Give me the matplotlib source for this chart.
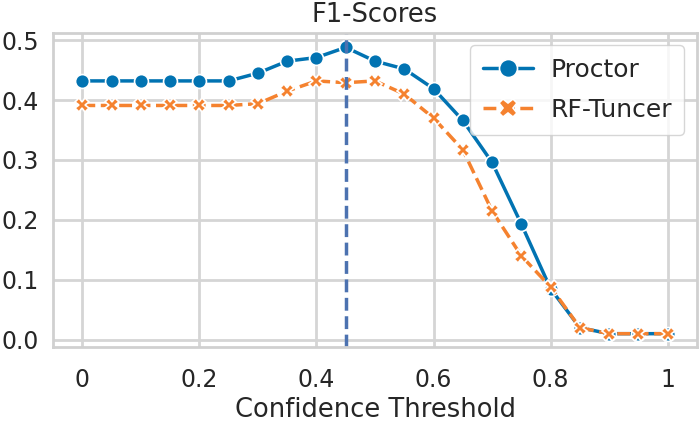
import matplotlib
matplotlib.use("Agg")
import matplotlib.pyplot as plt
import seaborn as sns

sns.set_theme(style="whitegrid")
plt.rcParams["font.family"] = ["DejaVu Sans"]

thresholds = [0, 0.05, 0.1, 0.15, 0.2, 0.25, 0.3, 0.35, 0.4, 0.45, 0.5,
              0.55, 0.6, 0.65, 0.7, 0.75, 0.8, 0.85, 0.9, 0.95, 1.0]
proctor = [0.432, 0.432, 0.432, 0.432, 0.432, 0.432, 0.445, 0.465, 0.471, 0.488, 0.465,
           0.452, 0.419, 0.366, 0.296, 0.193, 0.085, 0.02, 0.01, 0.01, 0.01]
rf_tuncer = [0.391, 0.391, 0.391, 0.391, 0.391, 0.391, 0.394, 0.415, 0.432, 0.429, 0.432,
             0.41, 0.37, 0.317, 0.215, 0.14, 0.088, 0.02, 0.01, 0.01, 0.01]
best_threshold = 0.45

fig, ax = plt.subplots(figsize=(6.99, 4.23), dpi=100)
fig.subplots_adjust(left=0.076, right=0.997, top=0.922, bottom=0.18)

ax.plot(thresholds, proctor, color="#0173b2", lw=2.5, marker="o", ms=10,
        mec="white", mew=1.2, label="Proctor")
ax.plot(thresholds, rf_tuncer, color="#f5822f", lw=2.5, ls="--", marker="X", ms=10,
        mec="white", mew=1.2, label="RF-Tuncer")
ax.axvline(best_threshold, color="#4c72b0", lw=2.5, ls="--")

ax.set_xlim(-0.05, 1.05)
ax.set_ylim(-0.012, 0.512)
ax.set_xticks([0, 0.2, 0.4, 0.6, 0.8, 1.0])
ax.set_xticklabels(["0", "0.2", "0.4", "0.6", "0.8", "1"])
ax.set_yticks([0, 0.1, 0.2, 0.3, 0.4, 0.5])
ax.tick_params(labelsize=17, colors="#262626")
ax.tick_params(axis="x", pad=9)
ax.tick_params(axis="y", pad=4)
for s in ax.spines.values():
    s.set_color("#d0d0d0")
    s.set_linewidth(2)
ax.grid(color="#d5d5d5", lw=2)
ax.set_title("F1-Scores", fontsize=18.5, pad=8)
ax.set_xlabel("Confidence Threshold", fontsize=18.5, labelpad=4)
ax.legend(loc="upper right", fontsize=18, handlelength=2.0, handletextpad=0.7,
          borderpad=0.5, labelspacing=0.65, markerscale=1.3)

plt.savefig("out.png", dpi=100)
